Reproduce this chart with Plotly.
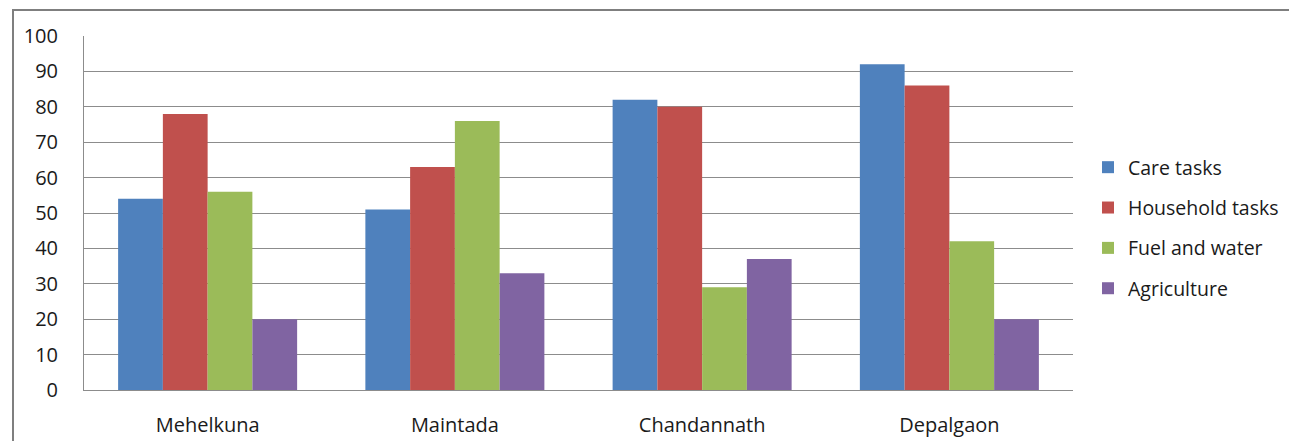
import plotly.graph_objects as go

villages = ["Mehelkuna", "Maintada", "Chandannath", "Depalgaon"]
care_tasks = [54, 51, 82, 92]
household_tasks = [78, 63, 80, 86]
fuel_and_water = [56, 76, 29, 42]
agriculture = [20, 33, 37, 20]
y_ticks = [0, 10, 20, 30, 40, 50, 60, 70, 80, 90, 100]

series = [
    ("Care tasks", care_tasks, "#4F81BD"),
    ("Household tasks", household_tasks, "#C0504D"),
    ("Fuel and water", fuel_and_water, "#9BBB59"),
    ("Agriculture", agriculture, "#8064A2"),
]

W, H = 1289, 441
L, R, T, B = 84, 1073, 36, 390  # plot area edges in pixels

fig = go.Figure()
for name, vals, color in series:
    fig.add_trace(go.Bar(
        x=villages, y=vals, name=name, legendgroup=name,
        marker=dict(color=color, line=dict(width=0)),
    ))

font_family = "Open Sans, Liberation Sans, sans-serif"
grid = "#8c8c8c"
fs = 20

fig.update_layout(
    width=W, height=H,
    margin=dict(l=L, r=W - R, t=T, b=H - B, pad=0, autoexpand=False),
    paper_bgcolor="white", plot_bgcolor="white",
    barmode="group", bargap=0.276, bargroupgap=0,
    font=dict(family=font_family, size=fs, color="#1a1a1a"),
    legend=dict(
        x=(1088 - L) / (R - L), xanchor="left",
        y=(B - 228) / (B - T), yanchor="middle",
        traceorder="grouped", tracegroupgap=12,
        font=dict(size=19.5),
        bgcolor="rgba(0,0,0,0)",
    ),
    showlegend=True,
    xaxis=dict(
        showgrid=False, showline=True, linecolor=grid, linewidth=1,
        ticks="", ticklabelstandoff=17,
        tickfont=dict(size=fs),
    ),
    yaxis=dict(
        range=[0, 100], tickvals=y_ticks, showgrid=True, gridcolor=grid,
        gridwidth=1, showline=True, linecolor=grid, linewidth=1,
        ticks="", ticklabelstandoff=21, zeroline=False,
        tickfont=dict(size=fs),
    ),
    shapes=[
        # outer chart frame
        dict(type="rect", xref="paper", yref="paper",
             x0=(13 - L) / (R - L), x1=1.4,
             y0=-0.4, y1=(B - 10) / (B - T),
             line=dict(color="#7f7f7f", width=2), fillcolor="rgba(0,0,0,0)",
             layer="below"),
    ],
)

fig.write_html("out.html")
